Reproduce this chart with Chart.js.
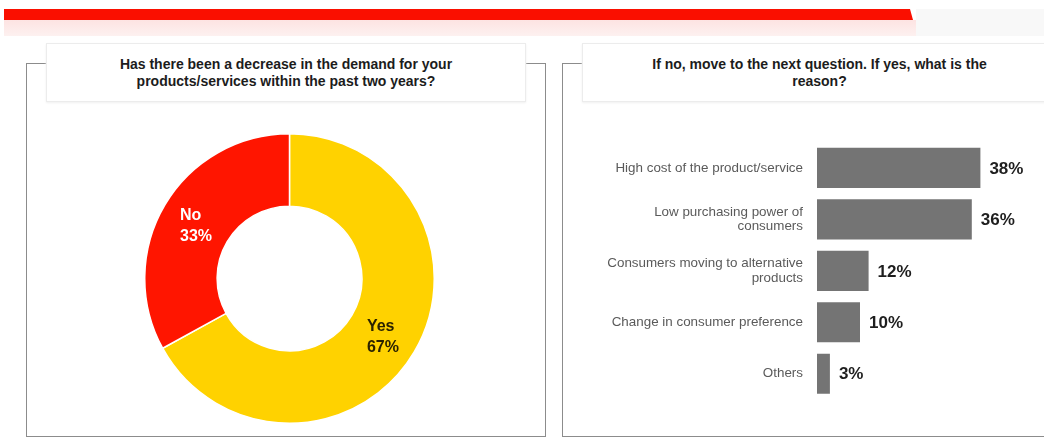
<!DOCTYPE html>
<html>
<head>
<meta charset="utf-8">
<script src="https://cdn.jsdelivr.net/npm/chart.js@4/dist/chart.umd.min.js"></script>
<style>
  html, body { margin: 0; padding: 0; background: #fff; }
  body { width: 1044px; height: 446px; position: relative; overflow: hidden; font-family: "Liberation Sans", Arial, sans-serif; }
  .band { position: absolute; left: 4px; top: 9px; width: 909px; height: 11px; background: #fa0f00;
          clip-path: polygon(0 0, 906px 0, 909px 11px, 0 11px); }
  .band-light { position: absolute; left: 4px; top: 20px; width: 912px; height: 16px;
                background: linear-gradient(#fde3e2, #fdf1f0); }
  .band-grey { position: absolute; left: 916px; top: 9px; width: 128px; height: 27px; background: #f8f8f8; }
  .frame { position: absolute; border: 1.5px solid #8c8c8c; box-sizing: border-box; }
  .title { position: absolute; background: #fff; border: 1px solid #ececec; box-shadow: 0 1px 2px #f0f0f0;
           box-sizing: border-box; display: flex; align-items: center; justify-content: center;
           text-align: center; font-weight: bold; font-size: 14px; line-height: 17px; color: #1c1c1c; }
  canvas { position: absolute; }
</style>
</head>
<body>
<div class="band-light"></div>
<div class="band"></div>
<div class="band-grey"></div>

<div class="frame" style="left:26px; top:63px; width:520px; height:374px;"></div>
<div class="frame" style="left:562px; top:63px; width:490px; height:374px;"></div>

<div class="title" style="left:46px; top:43px; width:480px; height:59px;">
  Has there been a decrease in the demand for your<br>products/services within the past two years?
</div>
<div class="title" style="left:582px; top:43px; width:475px; height:59px;">
  If no, move to the next question. If yes, what is the<br>reason?
</div>

<canvas id="donut" width="291" height="291" style="left:144px; top:133px;"></canvas>
<canvas id="bars" width="454" height="300" style="left:590px; top:121px;"></canvas>

<script>
// demand question
const answers = ['Yes', 'No'];
const answerShares = [67, 33];
const answerColors = ['#ffd200', '#ff1500'];
const answerTextColors = ['#2a2200', '#ffffff'];

// reasons for the decrease
const reasons = [
  'High cost of the product/service',
  ['Low purchasing power of', 'consumers'],
  ['Consumers moving to alternative', 'products'],
  'Change in consumer preference',
  'Others'
];
const reasonShares = [38, 36, 12, 10, 3];
const reasonTicks = [0, 10, 20, 30, 40];

Chart.defaults.font.family = '"Liberation Sans", Arial, sans-serif';
Chart.defaults.animation = false;

// name + percentage inside each ring segment
const sliceLabels = {
  id: 'sliceLabels',
  afterDatasetsDraw(chart) {
    const {ctx} = chart;
    const meta = chart.getDatasetMeta(0);
    ctx.save();
    ctx.font = 'bold 16px "Liberation Sans", Arial, sans-serif';
    ctx.textBaseline = 'middle';
    ctx.textAlign = 'left';
    meta.data.forEach((arc, i) => {
      const p = arc.tooltipPosition();
      const lines = [chart.data.labels[i], chart.data.datasets[0].data[i] + '%'];
      const w = Math.max(...lines.map(t => ctx.measureText(t).width));
      ctx.fillStyle = answerTextColors[i];
      lines.forEach((t, j) => ctx.fillText(t, p.x - w / 2, p.y + 3 + (j - 0.5) * 21));
    });
    ctx.restore();
  }
};

new Chart(document.getElementById('donut'), {
  type: 'doughnut',
  data: {
    labels: answers,
    datasets: [{
      data: answerShares,
      backgroundColor: answerColors,
      borderColor: '#ffffff',
      borderWidth: 1.5
    }]
  },
  options: {
    responsive: false,
    cutout: '50%',
    layout: { padding: 0 },
    plugins: { legend: { display: false }, tooltip: { enabled: false } }
  },
  plugins: [sliceLabels]
});

// percentage to the right of every bar
const barValues = {
  id: 'barValues',
  afterDatasetsDraw(chart) {
    const {ctx} = chart;
    const meta = chart.getDatasetMeta(0);
    ctx.save();
    ctx.font = 'bold 17px "Liberation Sans", Arial, sans-serif';
    ctx.fillStyle = '#1e1e1e';
    ctx.textBaseline = 'middle';
    meta.data.forEach((bar, i) => {
      ctx.fillText(chart.data.datasets[0].data[i] + '%', bar.x + 9, bar.y + 1);
    });
    ctx.restore();
  }
};

new Chart(document.getElementById('bars'), {
  type: 'bar',
  data: {
    labels: reasons,
    datasets: [{
      data: reasonShares,
      backgroundColor: '#747474',
      categoryPercentage: 1,
      barPercentage: 0.78
    }]
  },
  options: {
    responsive: false,
    indexAxis: 'y',
    // the y ticks add ~21px above and below the plot area on their own
    layout: { padding: { top: 0, bottom: 21.5, right: 55, left: 0 } },
    scales: {
      x: {
        display: false,
        min: reasonTicks[0],
        max: reasonTicks[reasonTicks.length - 1]
      },
      y: {
        grid: { display: false, drawTicks: false },
        border: { display: false },
        ticks: {
          color: '#5a5a5a',
          padding: 14,
          font: { size: 13.4, lineHeight: 1.07 }
        },
        afterFit(scale) { scale.width = 227; }
      }
    },
    plugins: { legend: { display: false }, tooltip: { enabled: false } }
  },
  plugins: [barValues]
});
</script>
</body>
</html>
